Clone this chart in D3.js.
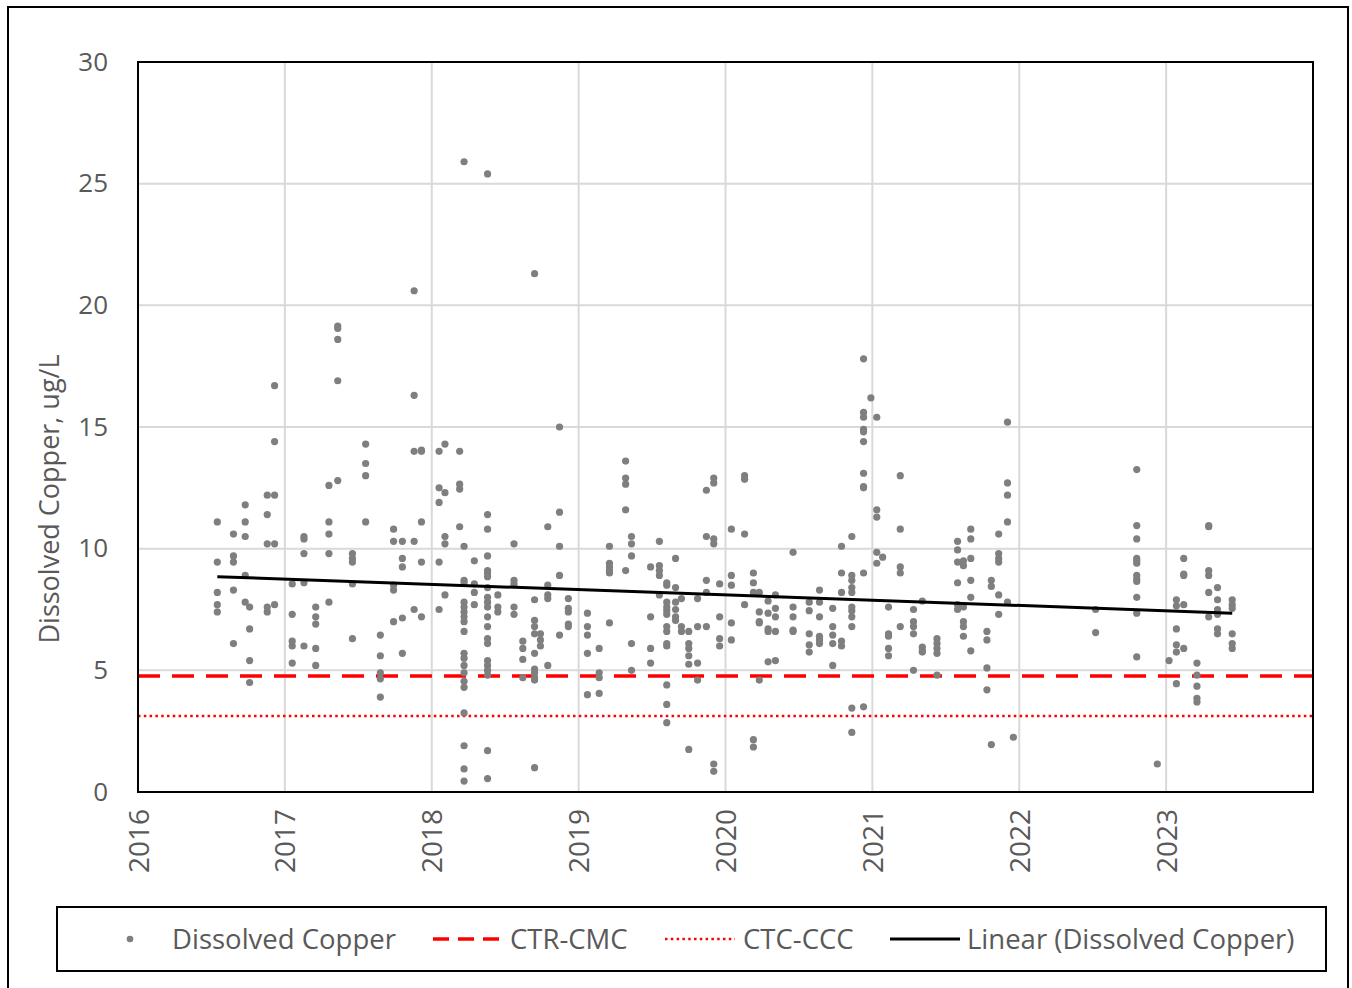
<!DOCTYPE html>
<html>
<head>
<meta charset="utf-8">
<script src="https://cdn.jsdelivr.net/npm/d3@7"></script>
<style>
  body { margin: 0; background: #fff; }
  svg text { font-family: "Open Sans", "DejaVu Sans", sans-serif; fill: #595959; }
</style>
</head>
<body>
<div id="chart"></div>
<script>
// sampling dates (decimal years) and dissolved copper results (ug/L) taken on each date
var sampleDates = [
  2016.54, 2016.65, 2016.73, 2016.76, 2016.88, 2016.93,
  2017.05, 2017.13, 2017.21, 2017.30, 2017.36, 2017.46, 2017.55, 2017.65, 2017.74, 2017.80, 2017.88, 2017.93,
  2018.05, 2018.09, 2018.19, 2018.22, 2018.29, 2018.38, 2018.45, 2018.56, 2018.62, 2018.70, 2018.74, 2018.79, 2018.87, 2018.93,
  2019.06, 2019.14, 2019.21, 2019.32, 2019.36, 2019.49, 2019.55, 2019.60, 2019.66, 2019.70, 2019.75, 2019.81, 2019.87, 2019.92, 2019.96,
  2020.04, 2020.13, 2020.19, 2020.23, 2020.29, 2020.34, 2020.46, 2020.57, 2020.64, 2020.73, 2020.79, 2020.86, 2020.94, 2020.99,
  2021.03, 2021.07, 2021.11, 2021.19, 2021.28, 2021.34, 2021.44, 2021.58, 2021.62, 2021.67, 2021.78, 2021.81, 2021.86, 2021.92, 2021.96,
  2022.52, 2022.80, 2022.94, 2023.02, 2023.07, 2023.12, 2023.21, 2023.29, 2023.35, 2023.45
];
var copperResults = [
  [11.1, 9.45, 8.2, 7.7, 7.4],
  [10.6, 9.7, 9.45, 8.3, 6.1],
  [11.8, 11.1, 10.5, 8.9, 7.8],
  [7.6, 6.7, 5.4, 4.5],
  [12.2, 11.4, 10.2, 7.6, 7.4],
  [16.7, 14.4, 12.2, 10.2, 7.7],
  [8.55, 7.3, 6.2, 6.0, 5.3],
  [10.5, 10.4, 9.8, 8.6, 6.0],
  [7.6, 7.2, 6.9, 5.9, 5.2],
  [12.6, 11.1, 10.6, 9.8, 7.8],
  [19.15, 19.05, 18.6, 16.9, 12.8],
  [9.8, 9.6, 9.45, 8.55, 6.3],
  [14.3, 13.5, 13.0, 11.1],
  [6.45, 5.6, 4.9, 4.65, 3.9],
  [10.8, 10.3, 8.5, 8.3, 7.0],
  [10.3, 9.6, 9.25, 7.15, 5.7],
  [20.6, 16.3, 14.0, 10.3, 7.5],
  [14.05, 14.0, 11.1, 9.45, 7.2],
  [14.0, 12.5, 11.9, 9.45, 7.5],
  [14.3, 12.3, 10.5, 10.2, 8.1],
  [14.0, 12.65, 12.45, 10.9],
  [25.9, 10.1, 8.7, 8.6, 7.8, 7.6, 7.4, 7.2, 7.0, 6.6, 5.7, 5.5, 5.2, 4.9, 4.55, 4.3, 3.25, 1.9, 0.95, 0.45],
  [9.5, 8.55, 8.2, 7.7],
  [25.4, 11.4, 10.8, 9.7, 9.1, 9.0, 8.85, 8.4, 8.0, 7.8, 7.6, 7.2, 6.8, 6.3, 6.1, 5.4, 5.2, 5.0, 4.8, 1.7, 0.55],
  [8.1, 7.6, 7.4],
  [10.2, 8.7, 8.55, 7.6, 7.3],
  [6.2, 5.9, 5.45, 4.7],
  [21.3, 7.9, 7.05, 6.8, 6.5, 5.7, 5.05, 4.9, 4.7, 4.6, 1.0],
  [6.5, 6.25, 6.0],
  [10.9, 8.5, 8.1, 7.95, 5.2],
  [15.0, 11.5, 10.1, 8.9, 6.45],
  [7.95, 7.55, 7.4, 6.9, 6.8],
  [7.35, 6.8, 6.45, 5.7, 4.0],
  [5.9, 4.9, 4.7, 4.05],
  [10.1, 9.4, 9.25, 9.1, 9.0, 6.95],
  [13.6, 12.9, 12.65, 11.6, 9.1],
  [10.5, 10.2, 9.7, 6.1, 5.0],
  [9.25, 7.2, 5.9, 5.3],
  [10.3, 9.3, 9.1, 8.9, 8.1],
  [8.6, 8.5, 7.8, 7.6, 7.45, 7.3, 6.8, 6.6, 6.1, 6.0, 4.4, 3.6, 2.85],
  [9.6, 8.4, 7.8, 7.5, 7.2, 7.05],
  [7.95, 6.8, 6.6],
  [6.6, 6.1, 5.9, 5.6, 5.25, 1.75],
  [7.95, 6.8, 5.3, 4.6],
  [12.4, 10.5, 8.7, 8.2, 6.8],
  [12.9, 12.7, 10.4, 10.2, 1.15, 0.85],
  [8.55, 7.2, 6.3, 6.0],
  [10.8, 8.9, 8.5, 6.95, 6.25],
  [13.0, 12.85, 10.6, 7.7],
  [9.0, 8.6, 8.2, 2.15, 1.85],
  [8.2, 7.4, 7.0, 6.95, 4.6],
  [7.85, 7.35, 6.7, 6.6, 5.35],
  [8.1, 7.55, 7.2, 6.6, 5.4],
  [9.85, 7.6, 7.2, 6.65, 6.6],
  [7.8, 7.45, 6.5, 6.05, 5.75],
  [8.3, 7.8, 7.2, 6.4, 6.25, 6.1],
  [7.55, 6.8, 6.45, 6.1, 5.2],
  [10.1, 9.0, 8.2, 6.2, 6.0],
  [10.5, 8.9, 8.7, 8.4, 8.2, 7.6, 7.45, 7.2, 6.8, 3.45, 2.45],
  [17.8, 15.6, 15.4, 14.9, 14.8, 14.4, 13.1, 12.55, 12.5, 9.0, 3.5],
  [16.2],
  [15.4, 11.6, 11.3, 9.85, 9.4],
  [9.65],
  [7.6, 6.5, 6.4, 5.9, 5.6],
  [13.0, 10.8, 9.25, 9.0, 6.8],
  [7.5, 7.0, 6.8, 6.5, 5.0],
  [7.85, 5.95, 5.8, 5.75],
  [6.3, 6.1, 5.9, 5.7, 4.8],
  [10.3, 9.95, 9.45, 8.6, 7.7, 7.5],
  [9.5, 9.3, 7.6, 7.0, 6.8, 6.4],
  [10.8, 10.4, 9.6, 8.7, 8.0, 5.8],
  [6.6, 6.25, 5.1, 4.2],
  [8.7, 8.45, 1.95],
  [10.6, 9.8, 9.6, 9.45, 8.1, 7.3],
  [15.2, 12.7, 12.2, 11.1, 7.8],
  [2.25],
  [7.5, 6.55],
  [13.25, 10.95, 10.4, 9.6, 9.5, 9.4, 8.9, 8.75, 8.65, 8.0, 7.35, 5.55],
  [1.15],
  [5.4],
  [7.9, 7.65, 6.7, 6.05, 5.75, 4.45],
  [9.6, 8.95, 8.9, 7.7, 5.9],
  [5.3, 4.8, 4.35, 3.85, 3.7],
  [10.95, 10.9, 9.1, 8.9, 8.2, 7.2],
  [8.4, 7.9, 7.5, 7.3, 6.7, 6.5],
  [7.9, 7.7, 7.55, 6.5, 6.1, 5.9]
];

// criteria and trend line endpoints
var ctrCmc = 4.77;
var ctcCcc = 3.12;
var trendDates = [2016.54, 2023.45];
var trendValues = [8.85, 7.35];

var yearTicks = [2016, 2017, 2018, 2019, 2020, 2021, 2022, 2023];
var valueTicks = [0, 5, 10, 15, 20, 25, 30];

var points = [];
sampleDates.forEach(function(d, i){
    copperResults[i].forEach(function(v){
        points.push({date: d, value: v});
    });
});

var width = 1352, height = 988;
var plotLeft = 138, plotRight = 1313, plotTop = 62, plotBottom = 792;

var svg = d3.select("#chart")
  .append("svg")
    .attr("width", width)
    .attr("height", height);

// outer frame
svg.append("rect")
    .attr("x", 8).attr("y", 7)
    .attr("width", 1340).attr("height", 1000)
    .attr("fill", "none")
    .attr("stroke", "#000")
    .attr("stroke-width", 2);

var x = d3.scaleLinear().domain([2016, 2024]).range([plotLeft, plotRight]);
var y = d3.scaleLinear().domain([0, 30]).range([plotBottom, plotTop]);

// gridlines
svg.append("g")
  .selectAll("line")
  .data(valueTicks.slice(1, -1))
  .enter()
  .append("line")
    .attr("x1", plotLeft).attr("x2", plotRight)
    .attr("y1", function(d){ return y(d); })
    .attr("y2", function(d){ return y(d); })
    .attr("stroke", "#d9d9d9")
    .attr("stroke-width", 2);

svg.append("g")
  .selectAll("line")
  .data(yearTicks.slice(1))
  .enter()
  .append("line")
    .attr("x1", function(d){ return x(d); })
    .attr("x2", function(d){ return x(d); })
    .attr("y1", plotTop).attr("y2", plotBottom)
    .attr("stroke", "#d9d9d9")
    .attr("stroke-width", 2);

// axes labels via d3 axes, lines hidden
var yAxis = svg.append("g")
    .attr("transform", "translate(" + plotLeft + ",0)")
    .call(d3.axisLeft(y).tickValues(valueTicks).tickSize(0).tickPadding(30));
yAxis.select(".domain").remove();
yAxis.selectAll("text")
    .style("font-size", "26px")
    .style("font-family", "'Open Sans', sans-serif");

var xAxis = svg.append("g")
    .attr("transform", "translate(0," + plotBottom + ")")
    .call(d3.axisBottom(x).tickValues(yearTicks).tickFormat(d3.format("d")).tickSize(0));
xAxis.select(".domain").remove();
xAxis.selectAll("text")
    .style("font-size", "28px")
    .style("font-family", "'Open Sans', sans-serif")
    .attr("text-anchor", "end")
    .attr("transform", "rotate(-90)")
    .attr("x", -17)
    .attr("y", 0)
    .attr("dy", "0.36em");

svg.append("text")
    .attr("transform", "translate(50,499) rotate(-90)")
    .attr("text-anchor", "middle")
    .attr("dy", "0.35em")
    .style("font-size", "27px")
    .text("Dissolved Copper, ug/L");

// criteria lines
svg.append("line")
    .attr("x1", plotLeft).attr("x2", plotRight)
    .attr("y1", y(ctrCmc)).attr("y2", y(ctrCmc))
    .attr("stroke", "#ff0000")
    .attr("stroke-width", 3.5)
    .attr("stroke-dasharray", "22,12");

svg.append("line")
    .attr("x1", plotLeft).attr("x2", plotRight)
    .attr("y1", y(ctcCcc)).attr("y2", y(ctcCcc))
    .attr("stroke", "#ff0000")
    .attr("stroke-width", 2.5)
    .attr("stroke-dasharray", "2.5,3.3");

// scatter points
svg.append("g")
  .selectAll("circle")
  .data(points)
  .enter()
  .append("circle")
    .attr("cx", function(d){ return x(d.date); })
    .attr("cy", function(d){ return y(d.value); })
    .attr("r", 3.6)
    .attr("fill", "#7f7f7f");

// linear trend
svg.append("path")
    .datum(trendDates.map(function(d, i){ return [d, trendValues[i]]; }))
    .attr("d", d3.line()
      .x(function(d){ return x(d[0]); })
      .y(function(d){ return y(d[1]); }))
    .attr("fill", "none")
    .attr("stroke", "#000")
    .attr("stroke-width", 3);

// plot frame
svg.append("rect")
    .attr("x", plotLeft).attr("y", plotTop)
    .attr("width", plotRight - plotLeft).attr("height", plotBottom - plotTop)
    .attr("fill", "none")
    .attr("stroke", "#000")
    .attr("stroke-width", 2);

// legend
var legend = svg.append("g");
legend.append("rect")
    .attr("x", 57).attr("y", 907)
    .attr("width", 1269).attr("height", 64)
    .attr("fill", "#fff")
    .attr("stroke", "#000")
    .attr("stroke-width", 2);

var ly = 939;
legend.append("circle")
    .attr("cx", 130).attr("cy", ly).attr("r", 3.3).attr("fill", "#7f7f7f");
legend.append("line")
    .attr("x1", 433).attr("x2", 501).attr("y1", ly).attr("y2", ly)
    .attr("stroke", "#ff0000").attr("stroke-width", 3.5).attr("stroke-dasharray", "16,9");
legend.append("line")
    .attr("x1", 665).attr("x2", 735).attr("y1", ly).attr("y2", ly)
    .attr("stroke", "#ff0000").attr("stroke-width", 2.5).attr("stroke-dasharray", "2.5,3.3");
legend.append("line")
    .attr("x1", 890).attr("x2", 960).attr("y1", ly).attr("y2", ly)
    .attr("stroke", "#000").attr("stroke-width", 3);

var legendItems = [
    {label: "Dissolved Copper", x: 172},
    {label: "CTR-CMC", x: 510},
    {label: "CTC-CCC", x: 743},
    {label: "Linear (Dissolved Copper)", x: 967}
];
legend.selectAll("text")
  .data(legendItems)
  .enter()
  .append("text")
    .attr("x", function(d){ return d.x; })
    .attr("y", ly)
    .attr("dy", "0.35em")
    .style("font-size", "27.5px")
    .text(function(d){ return d.label; });
</script>
</body>
</html>
